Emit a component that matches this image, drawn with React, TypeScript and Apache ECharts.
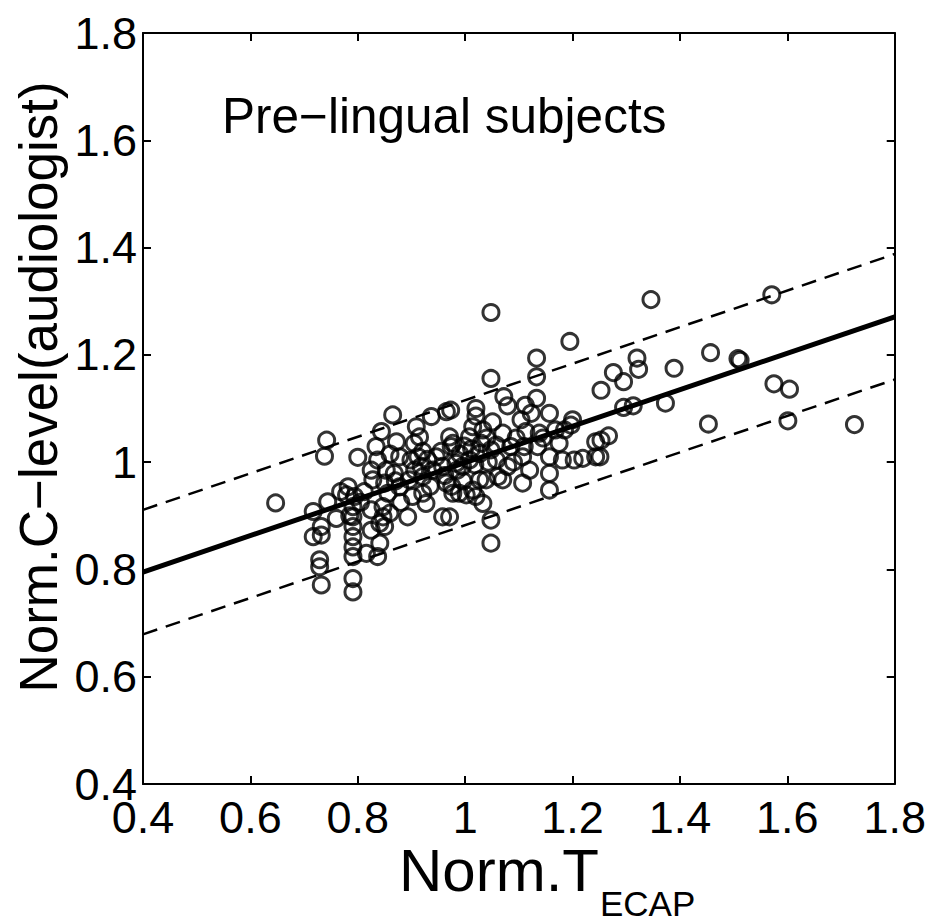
import React, { useEffect, useRef } from "react";
import * as echarts from "echarts";

// ---- data ----
const xTickValues = [0.4, 0.6, 0.8, 1.0, 1.2, 1.4, 1.6, 1.8];
const yTickValues = [0.4, 0.6, 0.8, 1.0, 1.2, 1.4, 1.6, 1.8];

const tEcap = [
  1.346, 1.571, 1.320, 1.323, 1.276, 1.295, 1.253, 1.389, 1.457, 1.508, 1.512, 1.575, 1.604, 1.295, 1.313,
  1.373, 1.453, 1.601, 1.725, 1.267, 1.253, 1.251,
  1.048, 1.195, 1.133, 1.133, 1.048, 1.072, 1.079, 1.112, 1.133, 1.123, 1.020, 1.020, 0.973, 1.157, 1.051,
  1.104, 1.200, 1.197, 1.168, 1.138, 1.113, 1.070, 1.033, 1.008, 0.977, 1.243, 1.243, 1.219, 1.203, 1.181,
  1.157, 1.157, 1.157, 1.107, 1.110, 1.135, 1.085, 1.058, 1.058, 1.079, 1.061, 1.070, 1.107, 1.027, 0.995,
  0.989, 1.020, 1.033, 1.048, 0.971, 1.048,
  0.742, 0.738, 0.800, 0.865, 0.844, 0.834, 0.872, 0.909, 0.915, 0.937, 0.965, 1.014, 0.971, 0.974, 0.921,
  0.899, 0.878, 0.837, 0.825, 0.853, 0.868, 0.828, 0.850, 0.878, 0.896, 0.921, 0.940, 0.958, 0.983, 1.008,
  1.027, 1.048, 1.039, 1.014, 1.002, 0.977, 0.965, 0.958, 0.927, 0.921, 0.902, 0.893, 0.856, 0.847, 0.847,
  0.841, 0.850, 0.841, 0.837, 0.816, 0.825, 0.825, 0.791, 0.791, 0.791, 0.791, 0.791, 0.791, 0.791, 0.791,
  0.782, 0.779, 0.794, 0.760, 0.744, 0.717, 0.732, 0.717, 0.732, 0.729, 0.729, 0.732, 0.647,
  0.905, 0.912, 0.918, 0.906, 0.930, 0.946, 0.955, 0.962, 0.985, 0.990, 0.998, 1.012, 1.018, 1.030, 1.040,
  1.043, 0.996, 0.975, 0.935, 0.860, 0.870, 0.880, 0.812, 0.805, 0.860, 1.095, 1.090, 1.120, 1.145, 1.175,
  1.185, 0.768, 0.785,
];

const cLevel = [
  1.303, 1.312, 1.194, 1.173, 1.167, 1.150, 1.134, 1.175, 1.204, 1.193, 1.190, 1.146, 1.136, 1.102, 1.105,
  1.110, 1.071, 1.077, 1.070, 1.049, 1.041, 1.010,
  1.279, 1.225, 1.194, 1.159, 1.156, 1.122, 1.105, 1.106, 1.119, 1.091, 1.100, 1.086, 1.097, 1.091, 1.075,
  1.079, 1.079, 1.069, 1.060, 1.054, 1.057, 1.054, 1.060, 1.047, 1.035, 1.038, 1.010, 1.007, 1.004, 1.004,
  1.010, 0.979, 0.948, 1.010, 1.029, 1.029, 1.029, 1.032, 1.004, 0.992, 0.973, 0.967, 0.961, 0.967, 0.992,
  0.942, 0.936, 0.923, 0.892, 0.898, 0.849,
  1.041, 1.011, 1.009, 1.088, 1.057, 1.029, 1.038, 1.066, 1.047, 1.085, 1.094, 1.066, 1.047, 1.029, 1.020,
  1.004, 1.010, 1.004, 0.985, 0.985, 0.979, 0.967, 0.961, 0.954, 0.967, 0.973, 0.985, 0.992, 0.998, 1.004,
  1.016, 1.023, 0.967, 0.948, 0.939, 0.942, 0.961, 0.898, 0.923, 0.942, 0.936, 0.898, 0.942, 0.917, 0.898,
  0.886, 0.880, 0.849, 0.824, 0.830, 0.911, 0.873, 0.917, 0.898, 0.880, 0.861, 0.842, 0.824, 0.783, 0.758,
  0.954, 0.939, 0.936, 0.895, 0.926, 0.908, 0.880, 0.861, 0.864, 0.818, 0.805, 0.771, 0.924,
  1.035, 1.010, 0.992, 0.985, 1.005, 1.010, 1.020, 0.975, 0.985, 1.015, 1.030, 1.025, 0.995, 1.035, 1.045,
  1.000, 0.965, 0.955, 0.955, 1.015, 0.965, 0.925, 0.945, 0.925, 0.905, 1.045, 1.000, 0.985, 1.045, 1.035,
  1.060, 0.945, 0.900,
];

// regression line and its +/- band, evaluated at the axis ends
const fitX = [0.4, 1.8];
const fitY = [0.795, 1.271];
const upperY = [0.911, 1.388];
const lowerY = [0.679, 1.154];

const annotation = "Pre\u2212lingual subjects";
const yTitle = "Norm.C\u2212level(audiologist)";
const xTitleMain = "Norm.T";
const xTitleSub = "ECAP";

const FONT = "'Liberation Sans', Arial, Helvetica, sans-serif";

export default function App() {
  const ref = useRef<HTMLDivElement>(null);

  useEffect(() => {
    const chart = echarts.init(ref.current!, null, { renderer: "svg" });
    const fmt = (v: number) => String(+v.toFixed(1));
    const axisCommon = {
      type: "value" as const,
      min: 0.4,
      max: 1.8,
      interval: 0.2,
      splitLine: { show: false },
      axisLine: { show: true, onZero: false, lineStyle: { color: "#000", width: 2 } },
      axisTick: { show: true, inside: true, length: 8, lineStyle: { color: "#000", width: 2 } },
    };
    chart.setOption({
      animation: false,
      backgroundColor: "#fff",
      textStyle: { fontFamily: FONT },
      grid: { left: 143, top: 33, width: 753, height: 751, containLabel: false },
      xAxis: [
        {
          ...axisCommon,
          position: "bottom",
          axisLabel: {
            show: true,
            color: "#000",
            fontSize: 45,
            fontFamily: FONT,
            margin: 11,
            formatter: fmt,
            customValues: xTickValues,
          },
        },
        { ...axisCommon, position: "top", axisLabel: { show: false } },
      ],
      yAxis: [
        {
          ...axisCommon,
          position: "left",
          axisLabel: {
            show: true,
            color: "#000",
            fontSize: 45,
            fontFamily: FONT,
            margin: 6,
            formatter: fmt,
            customValues: yTickValues,
          },
        },
        { ...axisCommon, position: "right", axisLabel: { show: false } },
      ],
      series: [
        {
          type: "scatter",
          xAxisIndex: 0,
          yAxisIndex: 0,
          symbol: "circle",
          symbolSize: 16,
          itemStyle: { color: "rgba(0,0,0,0)", borderColor: "#000", borderWidth: 3 },
          data: tEcap.map((x, i) => [x, cLevel[i]]),
          z: 2,
        },
        {
          type: "line",
          symbol: "none",
          data: fitX.map((x, i) => [x, upperY[i]]),
          lineStyle: { color: "#000", width: 2.5, type: [15, 9] },
          z: 3,
        },
        {
          type: "line",
          symbol: "none",
          data: fitX.map((x, i) => [x, lowerY[i]]),
          lineStyle: { color: "#000", width: 2.5, type: [15, 9] },
          z: 3,
        },
        {
          type: "line",
          symbol: "none",
          data: fitX.map((x, i) => [x, fitY[i]]),
          lineStyle: { color: "#000", width: 5 },
          z: 4,
        },
      ],
      graphic: [
        {
          type: "text",
          left: 222,
          top: 90,
          style: { text: annotation, font: `49.5px ${FONT}`, fill: "#000" },
        },
        {
          type: "text",
          x: 38,
          y: 387,
          rotation: Math.PI / 2,
          style: {
            text: yTitle,
            font: `53px ${FONT}`,
            fill: "#000",
            align: "center",
            verticalAlign: "middle",
          },
        },
        {
          type: "text",
          x: 599,
          y: 870,
          style: {
            text: xTitleMain,
            font: `60px ${FONT}`,
            fill: "#000",
            align: "right",
            verticalAlign: "middle",
          },
        },
        {
          type: "text",
          x: 600,
          y: 903,
          style: {
            text: xTitleSub,
            font: `35px ${FONT}`,
            fill: "#000",
            align: "left",
            verticalAlign: "middle",
          },
        },
      ],
    });
    return () => chart.dispose();
  }, []);

  return (
    <div
      ref={ref}
      style={{ position: "fixed", left: 0, top: 0, width: 929, height: 921, background: "#fff" }}
    />
  );
}
